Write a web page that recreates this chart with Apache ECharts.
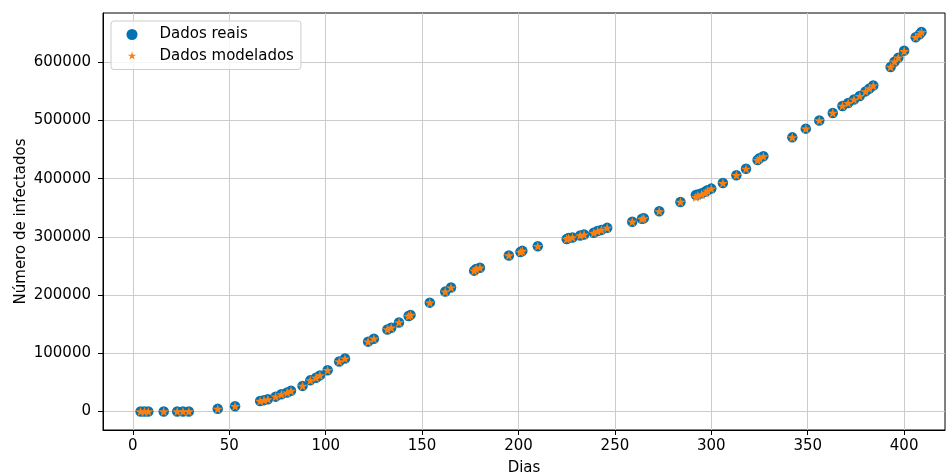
<!DOCTYPE html>
<html>
<head>
<meta charset="utf-8">
<script src="https://cdn.jsdelivr.net/npm/echarts@6/dist/echarts.min.js"></script>
<style>
  html, body { margin: 0; padding: 0; background: #fff; }
  #chart { width: 946px; height: 475px; }
</style>
</head>
<body>
<div id="chart"></div>
<script>
  // dias (eixo x)
  const dias = [4, 6, 8, 16, 23, 26, 29, 44, 53, 66, 68, 70, 74, 77, 80, 82, 88, 92, 95, 97, 101,
    107, 110, 122, 125, 132, 134, 138, 143, 144, 154, 162, 165, 177, 178, 180, 195, 201, 202, 210,
    225, 226, 228, 232, 234, 239, 241, 243, 246, 259, 264, 265, 273, 284, 292, 293, 295, 297, 298,
    300, 306, 313, 318, 324, 325, 327, 342, 349, 356, 363, 368, 371, 374, 377, 380, 382, 384,
    393, 395, 397, 400, 406, 408, 409];

  const dadosReais = [0, 0, 0, 0, 0, 0, 0, 4500, 9000, 18000, 19500, 21000, 25500, 29500, 32500, 35500, 44000, 53500, 58000, 62000, 71000,
    86000, 91000, 120000, 125000, 141000, 144000, 153000, 164000, 166000, 187000, 206000, 213000, 242000, 245000, 247000, 268000, 274000, 276000, 284000,
    296500, 298000, 299000, 302500, 304000, 307000, 310000, 312000, 315500, 326000, 331000, 332000, 344000, 360000, 372000, 373000, 375000, 378000, 380000,
    383000, 392500, 406000, 417000, 432000, 435000, 438500, 471000, 486000, 500000, 513000, 525000, 530000, 536000, 542000, 550000, 555000, 560000,
    592000, 601000, 608000, 620000, 643000, 648000, 652000];

  const dadosModelados = [0, 0, 0, 0, 0, 0, 0, 4500, 9000, 18000, 19500, 21000, 25500, 29500, 32500, 35500, 44000, 53500, 58000, 62000, 71000,
    86000, 91000, 120000, 125000, 141000, 144000, 153000, 164000, 166000, 187000, 206000, 213000, 242000, 245000, 247000, 268000, 274000, 276000, 284000,
    296500, 298000, 299000, 302500, 304000, 307000, 310000, 312000, 315500, 326000, 331000, 332000, 344000, 360000, 368500, 371000, 373000, 375500, 379000,
    383000, 392500, 406000, 417000, 432000, 435000, 438500, 471000, 486000, 500000, 513000, 525000, 530000, 536000, 542000, 550000, 555000, 560000,
    592000, 601000, 608000, 619000, 643000, 648000, 652000];

  const xTicks = [0, 50, 100, 150, 200, 250, 300, 350, 400];
  const yTicks = [0, 100000, 200000, 300000, 400000, 500000, 600000];

  const azul = '#0173b2';
  const laranja = '#ff7f0e';
  const star = 'path://M0,-1 L0.2245,-0.309 L0.951,-0.309 L0.363,0.118 L0.588,0.809 L0,0.382 L-0.588,0.809 L-0.363,0.118 L-0.951,-0.309 L-0.2245,-0.309 Z';
  // estrela com margem para ficar menor na legenda
  const starLegend = 'path://M-1.25,-1.25 M1.25,1.25 M0,-1 L0.2245,-0.309 L0.951,-0.309 L0.363,0.118 L0.588,0.809 L0,0.382 L-0.588,0.809 L-0.363,0.118 L-0.951,-0.309 L-0.2245,-0.309 Z';

  const fonte = 'DejaVu Sans';
  const tam = 15;
  const chart = echarts.init(document.getElementById('chart'));

  const option = {
    animation: false,
    textStyle: { fontFamily: fonte },
    grid: {
      left: 103, right: 1, top: 13, bottom: 45,
      outerBoundsMode: 'none',
      show: true, borderColor: '#000', borderWidth: 1, backgroundColor: 'transparent'
    },
    legend: {
      orient: 'vertical',
      left: 111, top: 21,
      padding: [5, 7, 5, 15.5],
      itemGap: 4.5,
      itemWidth: 11,
      itemHeight: 11,
      backgroundColor: 'rgba(255,255,255,0.8)',
      borderColor: '#cccccc',
      borderWidth: 1,
      borderRadius: 3,
      textStyle: { fontFamily: fonte, fontSize: tam, color: '#000', lineHeight: 17, padding: [0, 0, 0, 17] },
      data: [
        { name: 'Dados reais', icon: 'circle' },
        { name: 'Dados modelados', icon: starLegend }
      ]
    },
    xAxis: {
      type: 'value',
      min: -15.5, max: 421.2,
      minInterval: 50, maxInterval: 50,
      name: 'Dias',
      nameLocation: 'middle',
      nameGap: 31,
      nameMoveOverlap: false,
      nameTextStyle: { fontFamily: fonte, fontSize: tam, color: '#000' },
      axisLine: { show: true, onZero: false, lineStyle: { color: '#000', width: 1 } },
      axisTick: { show: true, length: 5, lineStyle: { color: '#000' }, customValues: xTicks },
      axisLabel: { fontFamily: fonte, fontSize: tam, color: '#000', margin: 9, customValues: xTicks },
      splitLine: { show: true, lineStyle: { color: '#cccccc', width: 1 } }
    },
    yAxis: {
      type: 'value',
      min: -31800, max: 684700,
      minInterval: 100000, maxInterval: 100000,
      name: 'Número de infectados',
      nameLocation: 'middle',
      nameGap: 74,
      nameMoveOverlap: false,
      nameTextStyle: { fontFamily: fonte, fontSize: tam, color: '#000' },
      axisLine: { show: true, onZero: false, lineStyle: { color: '#000', width: 1 } },
      axisTick: { show: true, length: 5, lineStyle: { color: '#000' }, customValues: yTicks },
      axisLabel: {
        fontFamily: fonte, fontSize: tam, color: '#000', margin: 12, customValues: yTicks,
        formatter: v => String(v)
      },
      splitLine: { show: true, lineStyle: { color: '#cccccc', width: 1 } }
    },
    series: [
      {
        name: 'Dados reais',
        type: 'scatter',
        symbol: 'circle',
        symbolSize: 10.5,
        itemStyle: { color: azul, opacity: 1 },
        data: dias.map((d, i) => [d, dadosReais[i]])
      },
      {
        name: 'Dados modelados',
        type: 'scatter',
        symbol: star,
        symbolSize: [10.2, 9.7],
        itemStyle: { color: laranja, opacity: 1 },
        data: dias.map((d, i) => [d, dadosModelados[i]])
      }
    ]
  };

  chart.setOption(option);
</script>
</body>
</html>
